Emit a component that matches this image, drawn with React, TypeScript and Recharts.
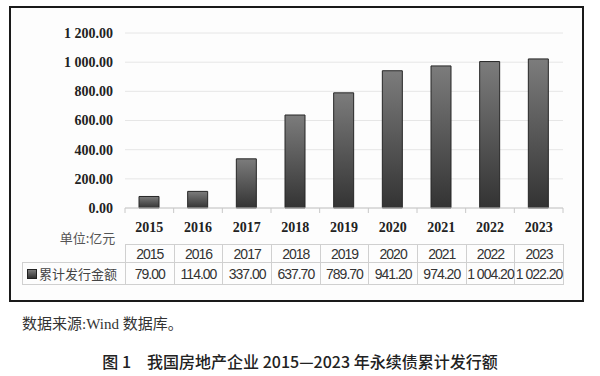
import React from "react";
import { BarChart, Bar, XAxis, YAxis, CartesianGrid } from "recharts";

const years = ["2015", "2016", "2017", "2018", "2019", "2020", "2021", "2022", "2023"];
const amounts = [79.0, 114.0, 337.0, 637.7, 789.7, 941.2, 974.2, 1004.2, 1022.2];
const yTicks = [0, 200, 400, 600, 800, 1000, 1200];
const seriesName = "累计发行金额";
const unitLabel = "单位:亿元";
const sourceNote = "数据来源:Wind 数据库。";
const figTitle = "图 1\u2003我国房地产企业 2015—2023 年永续债累计发行额";

const data = years.map((year, i) => ({ year, amount: amounts[i] }));

const fmt = (v: number) => {
  const [i, d] = v.toFixed(2).split(".");
  return i.replace(/\B(?=(\d{3})+(?!\d))/g, " ") + "." + d;
};

const PLOT_LEFT = 125;
const PLOT_RIGHT = 563;
const BAND = (PLOT_RIGHT - PLOT_LEFT) / years.length;

const axisFont = "'Liberation Serif', 'Noto Sans CJK SC', serif";
const tableFont = "'Liberation Sans', 'Noto Sans CJK SC', sans-serif";

function YearTick(props: any) {
  const { x, y, payload, index } = props;
  const half = BAND / 2;
  return (
    <g>
      <line x1={x - half} y1={y} x2={x - half} y2={y + 5} stroke="#c8c8c8" />
      {index === years.length - 1 && (
        <line x1={x + half} y1={y} x2={x + half} y2={y + 5} stroke="#c8c8c8" />
      )}
      <text x={x} y={y + 24} textAnchor="middle" fontFamily={axisFont} fontWeight="bold" fontSize={14} fill="#222">
        {payload.value}
      </text>
    </g>
  );
}

export default function App() {
  const cellBorder = "1px solid #d0d0d0";
  return (
    <div style={{ position: "absolute", left: 0, top: 0, width: 600, height: 376, background: "#fff", overflow: "hidden" }}>
      <div
        style={{
          position: "absolute",
          left: 9,
          top: 6,
          width: 575,
          height: 296,
          boxSizing: "border-box",
          border: "2px solid #1a1a1a",
          background: "#fdfdfd",
        }}
      />
      <div style={{ position: "absolute", left: 0, top: 0 }}>
        <BarChart width={600} height={300} data={data} margin={{ top: 33, right: 37, left: 10, bottom: 62 }}>
          <defs>
            <linearGradient id="barFill" x1="0" y1="0" x2="0" y2="1">
              <stop offset="0%" stopColor="#7c7c7c" />
              <stop offset="100%" stopColor="#333333" />
            </linearGradient>
          </defs>
          <CartesianGrid vertical={false} stroke="#e6e6e6" />
          <XAxis
            dataKey="year"
            tickLine={false}
            tickSize={0}
            tickMargin={0}
            height={30}
            axisLine={{ stroke: "#c8c8c8" }}
            tick={<YearTick />}
            interval={0}
          />
          <YAxis
            domain={[0, 1200]}
            ticks={yTicks}
            width={115}
            axisLine={false}
            tickLine={false}
            tickSize={0}
            tickMargin={12}
            tickFormatter={fmt}
            tick={{ fontFamily: axisFont, fontWeight: "bold", fontSize: 14, fill: "#222" }}
          />
          <Bar dataKey="amount" barSize={20} fill="url(#barFill)" stroke="#262626" strokeWidth={1} isAnimationActive={false} />
        </BarChart>
      </div>
      <div
        style={{
          position: "absolute",
          left: 50,
          top: 229,
          width: 75,
          textAlign: "center",
          fontFamily: "'Noto Sans CJK SC', sans-serif",
          fontSize: 13,
          color: "#555",
          lineHeight: "18px",
        }}
      >
        {unitLabel}
      </div>
      <table
        style={{
          position: "absolute",
          left: 22,
          top: 244,
          width: PLOT_RIGHT - 22,
          borderCollapse: "collapse",
          tableLayout: "fixed",
          fontFamily: tableFont,
          fontSize: 14,
          letterSpacing: -1,
          color: "#333",
        }}
      >
        <colgroup>
          <col style={{ width: PLOT_LEFT - 22 }} />
          {years.map((y) => (
            <col key={y} style={{ width: BAND }} />
          ))}
        </colgroup>
        <tbody>
          <tr style={{ height: 18 }}>
            <td style={{ padding: 0 }} />
            {years.map((y) => (
              <td key={y} style={{ border: cellBorder, padding: 0, textAlign: "center", lineHeight: "16px" }}>
                {y}
              </td>
            ))}
          </tr>
          <tr style={{ height: 22 }}>
            <td
              style={{
                border: cellBorder,
                padding: "0 0 0 4px",
                whiteSpace: "nowrap",
                fontFamily: "'Noto Sans CJK SC', sans-serif",
                fontSize: 13,
                letterSpacing: 0,
                color: "#444",
                lineHeight: "20px",
              }}
            >
              <span
                style={{
                  display: "inline-block",
                  width: 8,
                  height: 8,
                  marginRight: 2,
                  background: "linear-gradient(#7c7c7c, #333)",
                  border: "1px solid #222",
                  verticalAlign: "middle",
                  position: "relative",
                  top: -1,
                }}
              />
              {seriesName}
            </td>
            {amounts.map((v, i) => (
              <td
                key={years[i]}
                style={{ border: cellBorder, padding: 0, textAlign: "center", whiteSpace: "nowrap", overflow: "visible", lineHeight: "20px" }}
              >
                {fmt(v)}
              </td>
            ))}
          </tr>
        </tbody>
      </table>
      <div
        style={{
          position: "absolute",
          left: 22,
          top: 312,
          fontFamily: "'Liberation Serif', 'Noto Sans CJK SC', serif",
          fontSize: 15,
          color: "#333",
          whiteSpace: "nowrap",
        }}
      >
        {sourceNote}
      </div>
      <div
        style={{
          position: "absolute",
          left: 0,
          top: 349,
          width: 600,
          textAlign: "center",
          fontFamily: "'Noto Sans CJK SC', sans-serif",
          fontWeight: 500,
          fontSize: 16,
          color: "#222",
          whiteSpace: "nowrap",
        }}
      >
        {figTitle}
      </div>
    </div>
  );
}
